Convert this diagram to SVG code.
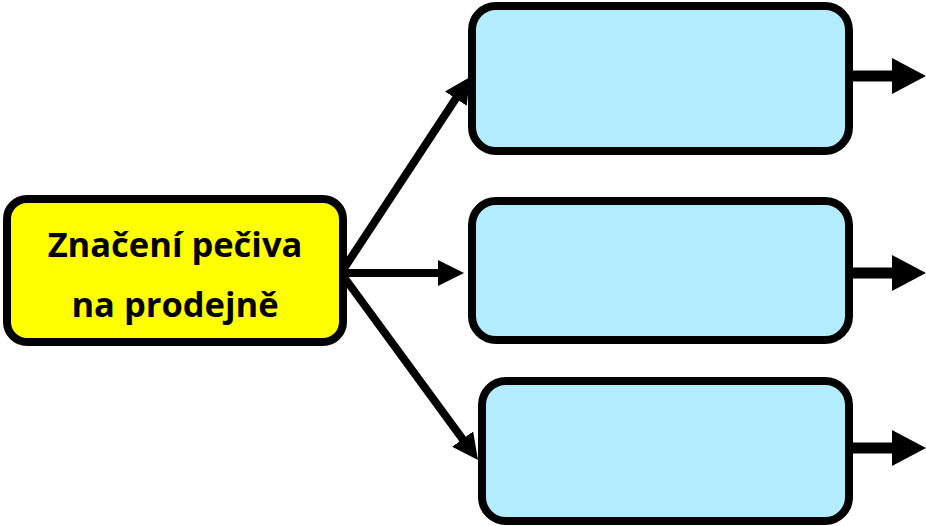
<svg xmlns="http://www.w3.org/2000/svg" width="926" height="526" viewBox="0 0 926 526">
  <style>
    .box { stroke: #000000; stroke-width: 8; }
    .src { fill: #FFFF00; }
    .tgt { fill: #B3ECFF; }
    .lbl { font-family: "Open Sans", "Liberation Sans", sans-serif; font-weight: 700; font-size: 34.5px; fill: #000000; text-anchor: middle; }
    .conn { stroke: #000000; stroke-width: 8; fill: none; }
    .out { stroke: #000000; stroke-width: 11; fill: none; }
  </style>
  <defs>
    <marker id="headA" markerUnits="userSpaceOnUse" markerWidth="26" markerHeight="26" refX="4" refY="13" orient="auto">
      <path d="M0,0 L26,13 L0,26 z" fill="#000000"/>
    </marker>
    <marker id="headB" markerUnits="userSpaceOnUse" markerWidth="34" markerHeight="36" refX="3" refY="18" orient="auto">
      <path d="M0,0 L34,18 L0,36 z" fill="#000000"/>
    </marker>
  </defs>
  <g id="connectors">
    <line class="conn" x1="341" y1="273" x2="458" y2="95.3" marker-end="url(#headA)"/>
    <line class="conn" x1="341" y1="273" x2="442" y2="273" marker-end="url(#headA)"/>
    <line class="conn" x1="341" y1="273" x2="465" y2="442.3" marker-end="url(#headA)"/>
    <line class="out" x1="853" y1="76" x2="895" y2="76" marker-end="url(#headB)"/>
    <line class="out" x1="853" y1="273" x2="895" y2="273" marker-end="url(#headB)"/>
    <line class="out" x1="853" y1="448" x2="895" y2="448" marker-end="url(#headB)"/>
  </g>
  <g id="node-source">
    <rect class="box src" x="7" y="199" width="336" height="143" rx="20" ry="20"/>
    <text class="lbl" x="175" y="257">Značení pečiva</text>
    <text class="lbl" x="175" y="317">na prodejně</text>
  </g>
  <g id="node-1">
    <rect class="box tgt" x="472" y="6" width="377" height="145" rx="24" ry="24"/>
  </g>
  <g id="node-2">
    <rect class="box tgt" x="472" y="201" width="377" height="139" rx="24" ry="24"/>
  </g>
  <g id="node-3">
    <rect class="box tgt" x="482" y="381" width="367" height="140" rx="24" ry="24"/>
  </g>
</svg>
